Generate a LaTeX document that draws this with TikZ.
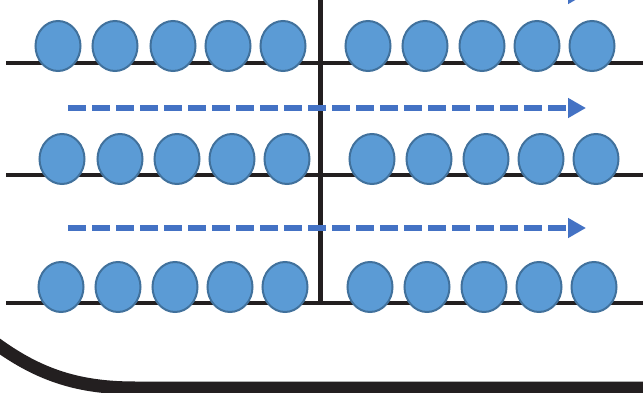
\documentclass[tikz,border=0pt]{standalone}
\usetikzlibrary{arrows.meta,shapes.geometric}
\definecolor{ballfill}{HTML}{5B9BD5}
\definecolor{balledge}{HTML}{41719C}
\definecolor{arrowblue}{HTML}{4472C4}
\definecolor{linedark}{HTML}{231F20}
\begin{document}
\begin{tikzpicture}[x=1pt,y=-1pt,
  ball/.style={ellipse,draw=balledge,fill=ballfill,line width=2pt,minimum width=45pt,minimum height=50pt,inner sep=0pt},
  track/.style={draw=linedark,line width=4pt},
  flow/.style={draw=arrowblue,line width=6pt,dash pattern=on 18pt off 6pt,-{Triangle[length=18pt,width=19pt]}}]
\useasboundingbox (0,0) rectangle (643,393);
% tracks
\coordinate (l1a) at (6,63); \coordinate (l1b) at (643,63);
\coordinate (l2a) at (6,175); \coordinate (l2b) at (643,175);
\coordinate (l3a) at (6,303); \coordinate (l3b) at (643,303);
\coordinate (va) at (320,-5); \coordinate (vb) at (320,303);
\draw[track] (l1a) -- (l1b);
\draw[track] (l2a) -- (l2b);
\draw[track] (l3a) -- (l3b);
\draw[draw=linedark,line width=5pt] (va) -- (vb);
% bottom curved wall
\coordinate (ca) at (-5,343);
\coordinate (cb) at (135,388);
\coordinate (cc) at (650,388);
\draw[draw=linedark,line width=13pt] (ca) .. controls (40,376) and (80,388) .. (cb) -- (cc);
% balls
\foreach \x [count=\i] in {58,115,173,228,283,368,425,482,537,592} \node[ball] (a\i) at (\x,46) {};
\foreach \x [count=\i] in {62,120,177,232,287,372,429,486,541,596} \node[ball] (b\i) at (\x,159) {};
\foreach \x [count=\i] in {61,118,175,230,285,370,427,484,539,594} \node[ball] (c\i) at (\x,287) {};
% arrows
\coordinate (f0a) at (68,-6); \coordinate (f0b) at (586,-6);
\coordinate (f1a) at (68,108); \coordinate (f1b) at (586,108);
\coordinate (f2a) at (68,228); \coordinate (f2b) at (586,228);
\draw[flow] (f0a) -- (f0b);
\draw[flow] (f1a) -- (f1b);
\draw[flow] (f2a) -- (f2b);
\end{tikzpicture}
\end{document}
